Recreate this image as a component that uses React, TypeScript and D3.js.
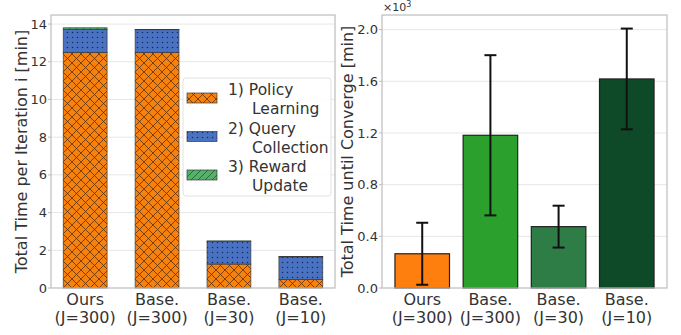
import React from 'react';
import * as d3 from 'd3';

// categories and values
const categories = ['Ours\n(J=300)', 'Base.\n(J=300)', 'Base.\n(J=30)', 'Base.\n(J=10)'];

// left panel: stacked time per iteration [min]
const policyLearning = [12.5, 12.5, 1.27, 0.45];
const queryCollection = [1.22, 1.2, 1.2, 1.2];
const rewardUpdate = [0.08, 0.02, 0.03, 0.02];
const leftTicks = [0, 2, 4, 6, 8, 10, 12, 14];
const legendLabels = [['1) Policy', 'Learning'], ['2) Query', 'Collection'], ['3) Reward', 'Update']];

// right panel: total time until converge [x10^3 min]
const convergeMean = [0.265, 1.182, 0.475, 1.618];
const convergeErr = [0.24, 0.62, 0.162, 0.39];
const rightTicks = [0.0, 0.4, 0.8, 1.2, 1.6, 2.0];
const convergeColors = ['#ff7f0e', '#2ca02c', '#2e7d46', '#0e4a27'];

const FONT = 'DejaVu Sans, sans-serif';
const textColor = '#333';
const gridColor = '#e6e6e6';
const spineColor = '#bdbdbd';

const stackColors = ['#f5820f', '#4a72c2', '#55b06a'];
const stackPatterns = ['hatchX', 'hatchDots', 'hatchDiag'];

function Patterns() {
  return (
    <defs>
      <pattern id="hatchX" width={9} height={9} patternUnits="userSpaceOnUse">
        <rect width={9} height={9} fill={stackColors[0]} />
        <path d="M0,0 L9,9 M9,0 L0,9 M-1,8 L1,10 M8,-1 L10,1 M-1,1 L1,-1 M8,10 L10,8" stroke="#5a2e08" strokeWidth={0.8} />
      </pattern>
      <pattern id="hatchDots" width={5} height={5} patternUnits="userSpaceOnUse">
        <rect width={5} height={5} fill={stackColors[1]} />
        <circle cx={2.5} cy={2.5} r={0.75} fill="#14295a" />
      </pattern>
      <pattern id="hatchDiag" width={7} height={7} patternUnits="userSpaceOnUse">
        <rect width={7} height={7} fill={stackColors[2]} />
        <path d="M-1,8 L8,-1 M-1,1 L1,-1 M6,8 L8,6" stroke="#1f5a2c" strokeWidth={0.8} />
      </pattern>
    </defs>
  );
}

function XLabels({ x, y }: { x: (i: number) => number; y: number }) {
  return (
    <g>
      {categories.map((c, i) => {
        const [a, b] = c.split('\n');
        return (
          <text key={i} x={x(i)} y={y} textAnchor="middle" fontSize={16} fill={textColor} fontFamily={FONT}>
            <tspan x={x(i)} dy={0}>{a}</tspan>
            <tspan x={x(i)} dy={18}>{b}</tspan>
          </text>
        );
      })}
    </g>
  );
}

function LeftPanel() {
  const left = 51, right = 335, top = 15, bottom = 288;
  const x = d3.scaleLinear().domain([-0.475, 3.475]).range([left, right]);
  const y = d3.scaleLinear().domain([0, 14.48]).range([bottom, top]);
  const barW = x(0.61) - x(0);
  const series = [policyLearning, queryCollection, rewardUpdate];
  const stacked = d3.stack<number>().keys(['0', '1', '2']).value((i, k) => series[+k][i])(d3.range(categories.length));

  return (
    <g>
      {leftTicks.map((t) => (
        <g key={t}>
          {t > 0 && <line x1={left} x2={right} y1={y(t)} y2={y(t)} stroke={gridColor} strokeWidth={1} />}
          <line x1={left - 3} x2={left} y1={y(t)} y2={y(t)} stroke={spineColor} />
          <text x={left - 4} y={y(t)} dy="0.35em" textAnchor="end" fontSize={13} fill={textColor} fontFamily={FONT}>{t}</text>
        </g>
      ))}
      {stacked.map((layer, li) => (
        <g key={li}>
          {layer.map((d, i) => (
            <rect key={i} x={x(i) - barW / 2} y={y(d[1])} width={barW} height={Math.max(0, y(d[0]) - y(d[1]))}
              fill={`url(#${stackPatterns[li]})`} stroke="#3a3a3a" strokeWidth={0.7} />
          ))}
        </g>
      ))}
      <rect x={left} y={top} width={right - left} height={bottom - top} fill="none" stroke={spineColor} strokeWidth={1.2} />
      {/* legend */}
      <rect x={183} y={78} width={148} height={118} rx={3} fill="white" fillOpacity={0.85} stroke="#e2e2e2" />
      {legendLabels.map((lab, i) => {
        const cy = 98 + i * 38.5;
        return (
          <g key={i}>
            <rect x={187} y={cy - 5} width={30} height={10} fill={`url(#${stackPatterns[i]})`} stroke="#3a3a3a" strokeWidth={0.7} />
            <text x={228} y={cy - 3} fontSize={15.5} fill={textColor} fontFamily={FONT}>
              <tspan x={228}>{lab[0]}</tspan>
              <tspan x={252} dy={19}>{lab[1]}</tspan>
            </text>
          </g>
        );
      })}
      <XLabels x={x} y={305} />
      <text transform={`translate(21,${(top + bottom) / 2}) rotate(-90)`} textAnchor="middle" dy="0.35em" fontSize={16} fill={textColor} fontFamily={FONT}>
        Total Time per Iteration i [min]
      </text>
    </g>
  );
}

function RightPanel() {
  const left = 382, right = 667, top = 15, bottom = 288;
  const x = d3.scaleLinear().domain([-0.59, 3.59]).range([left, right]);
  const y = d3.scaleLinear().domain([0, 2.113]).range([bottom, top]);
  const barW = x(0.8) - x(0);
  const capW = 6;

  return (
    <g>
      {rightTicks.map((t) => (
        <g key={t}>
          {t > 0 && <line x1={left} x2={right} y1={y(t)} y2={y(t)} stroke={gridColor} strokeWidth={1} />}
          <line x1={left - 3} x2={left} y1={y(t)} y2={y(t)} stroke={spineColor} />
          <text x={left - 4} y={y(t)} dy="0.35em" textAnchor="end" fontSize={13} fill={textColor} fontFamily={FONT}>{t.toFixed(1)}</text>
        </g>
      ))}
      {convergeMean.map((m, i) => (
        <rect key={i} x={x(i) - barW / 2} y={y(m)} width={barW} height={y(0) - y(m)} fill={convergeColors[i]} stroke="#222" strokeWidth={1.2} />
      ))}
      {convergeMean.map((m, i) => {
        const cx = x(i);
        const y1 = y(m + convergeErr[i]);
        const y0 = y(m - convergeErr[i]);
        return (
          <g key={i} stroke="#111" strokeWidth={2}>
            <line x1={cx} x2={cx} y1={y1} y2={y0} />
            <line x1={cx - capW} x2={cx + capW} y1={y1} y2={y1} />
            <line x1={cx - capW} x2={cx + capW} y1={y0} y2={y0} />
          </g>
        );
      })}
      <rect x={left} y={top} width={right - left} height={bottom - top} fill="none" stroke={spineColor} strokeWidth={1.2} />
      <text x={383} y={11} fontSize={11} fill={textColor} fontFamily={FONT}>
        ×10<tspan dy={-4} fontSize={8}>3</tspan>
      </text>
      <XLabels x={x} y={305} />
      <text transform={`translate(347,${(top + bottom) / 2}) rotate(-90)`} textAnchor="middle" dy="0.35em" fontSize={16} fill={textColor} fontFamily={FONT}>
        Total Time until Converge [min]
      </text>
    </g>
  );
}

export default function App() {
  return (
    <svg width={681} height={335} style={{ position: 'absolute', left: 0, top: 0, background: 'white' }}>
      <Patterns />
      <rect width={681} height={335} fill="white" />
      <LeftPanel />
      <RightPanel />
    </svg>
  );
}
